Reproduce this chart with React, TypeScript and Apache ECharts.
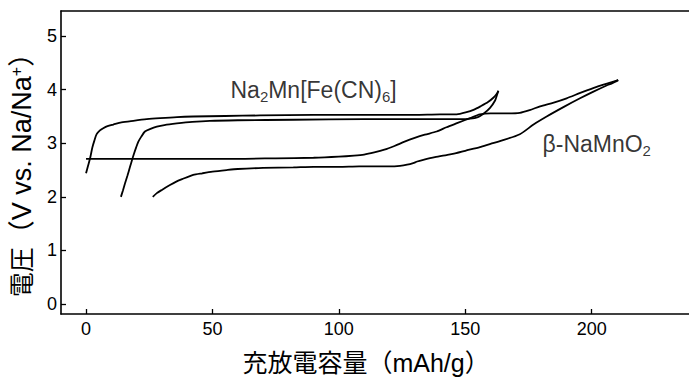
import React, { useEffect, useRef } from "react";
import * as echarts from "echarts";

const xTicks = [0, 50, 100, 150, 200];
const yTicks = [0, 1, 2, 3, 4, 5];

// Na2Mn[Fe(CN)6] charge (left to right)
const pbaCharge: [number, number][] = [
  [0, 2.44], [0.8, 2.58], [1.6, 2.72], [2.5, 2.92], [3.3, 3.05], [4.2, 3.17], [5.5, 3.24],
  [6.8, 3.28], [8.5, 3.32], [10.8, 3.35], [14, 3.39], [18.7, 3.42], [24, 3.45], [29.3, 3.47],
  [36, 3.49], [42.4, 3.5], [55, 3.51], [68.8, 3.52], [90, 3.53], [110, 3.53], [130, 3.53],
  [140, 3.54], [146.6, 3.54], [150.5, 3.58], [153.5, 3.63], [156, 3.69], [159, 3.77],
  [161.1, 3.85], [162.4, 3.92], [163.1, 3.98],
];
// Na2Mn[Fe(CN)6] discharge (right to left)
const pbaDischarge: [number, number][] = [
  [163.1, 3.98], [162.4, 3.88], [161.8, 3.8], [159.8, 3.66], [157.2, 3.55], [155, 3.49],
  [152, 3.46], [148, 3.45], [130, 3.45], [110, 3.45], [82, 3.44], [60, 3.43], [49, 3.42],
  [42, 3.4], [35.9, 3.37], [31, 3.34], [28, 3.31], [25.5, 3.27], [23.3, 3.22], [21.8, 3.12],
  [20.7, 3.03], [19.8, 2.92], [19, 2.81], [18.2, 2.69], [17.4, 2.56], [16.4, 2.4],
  [15.4, 2.25], [14.6, 2.12], [13.8, 2.0],
];
// beta-NaMnO2 charge (left to right)
const nmoCharge: [number, number][] = [
  [0, 2.71], [20, 2.71], [40, 2.71], [60, 2.71], [75, 2.72], [90, 2.73], [100, 2.75],
  [106, 2.77], [110, 2.79], [114, 2.83], [118, 2.88], [122, 2.95], [126, 3.03], [130, 3.1],
  [134, 3.16], [138.7, 3.22], [142.6, 3.3], [147, 3.38], [151.9, 3.47], [155.8, 3.54],
  [160, 3.56], [166, 3.56], [171.6, 3.57], [175.5, 3.62], [179.6, 3.69], [185, 3.76],
  [190.1, 3.84], [195.5, 3.94], [200.6, 4.03], [205, 4.1], [208.6, 4.15], [210.5, 4.18],
];
// beta-NaMnO2 discharge (right to left)
const nmoDischarge: [number, number][] = [
  [210.5, 4.18], [208, 4.12], [205.9, 4.08], [200.5, 3.96], [195.4, 3.84], [189, 3.68],
  [182.2, 3.5], [177, 3.35], [171.6, 3.17], [163.7, 3.04], [160, 2.99], [155.8, 2.93],
  [150, 2.86], [146, 2.81], [142.6, 2.78], [138, 2.74], [133.4, 2.69], [131, 2.66],
  [129.4, 2.63], [127, 2.6], [124.2, 2.58], [120, 2.57], [116.3, 2.57], [108, 2.57],
  [100, 2.56], [90, 2.56], [82, 2.55], [70, 2.54], [60, 2.52], [55.6, 2.5], [50, 2.47],
  [46, 2.44], [42.4, 2.41], [38, 2.33], [35.5, 2.28], [33.2, 2.22], [30, 2.13], [28, 2.07],
  [26.4, 2.0],
];

const pbaLabelPos: [number, number] = [90, 4.0];
const nmoLabelPos: [number, number] = [202, 2.99];

const latin = "'Liberation Sans', Arial, 'Noto Sans CJK JP', sans-serif";

export default function App() {
  const ref = useRef<HTMLDivElement>(null);
  useEffect(() => {
    document.body.style.margin = "0";
    const chart = echarts.init(ref.current!, null, { renderer: "svg" });
    const lineSeries = (data: [number, number][]) => ({
      type: "line",
      data,
      symbol: "none",
      smooth: 0.25,
      silent: true,
      lineStyle: { color: "#000", width: 1.8 },
    });
    const richLabel = {
      a: { fontSize: 23, fontFamily: latin, color: "#000", lineHeight: 29 },
      s: { fontSize: 15, fontFamily: latin, color: "#000", lineHeight: 15, verticalAlign: "bottom" },
    };
    chart.setOption({
      animation: false,
      backgroundColor: "#fff",
      grid: { left: 61, top: 11, right: 0, bottom: 64, containLabel: false, outerBoundsMode: "none" },
      xAxis: [
        {
          type: "value",
          min: -9.9,
          max: 238.5,
          name: "充放電容量（mAh/g）",
          nameLocation: "middle",
          nameGap: 36,
          nameTextStyle: { fontSize: 25, fontFamily: latin, color: "#000", padding: [0, 18, 0, 0] },
          axisLine: { show: true, onZero: false, lineStyle: { color: "#000", width: 1.6 } },
          axisTick: { show: true, inside: true, length: 5, customValues: xTicks, lineStyle: { color: "#000", width: 1.3 } },
          axisLabel: { customValues: xTicks, fontSize: 18, fontFamily: latin, color: "#000", margin: 6 },
          splitLine: { show: false },
        },
        {
          type: "value",
          position: "top",
          min: -9.9,
          max: 238.5,
          axisLine: { show: true, onZero: false, lineStyle: { color: "#000", width: 1.6 } },
          axisTick: { show: false },
          axisLabel: { show: false },
          splitLine: { show: false },
        },
      ],
      yAxis: {
        type: "value",
        min: -0.187,
        max: 5.47,
        name: "{c|電圧}（V vs. Na/Na{sup|+}）",
        nameLocation: "middle",
        nameGap: 26,
        nameTextStyle: {
          fontSize: 27,
          fontFamily: latin,
          color: "#000",
          padding: [0, 12, 0, 0],
          rich: {
            c: { fontSize: 25, fontFamily: latin, color: "#000" },
            sup: { fontSize: 16, fontFamily: latin, color: "#000", verticalAlign: "top", lineHeight: 16 },
          },
        },
        axisLine: { show: true, onZero: false, lineStyle: { color: "#000", width: 1.6 } },
        axisTick: { show: true, inside: true, length: 5, customValues: yTicks, lineStyle: { color: "#000", width: 1.3 } },
        axisLabel: { customValues: yTicks, fontSize: 18, fontFamily: latin, color: "#000", margin: 4 },
        splitLine: { show: false },
      },
      series: [
        lineSeries(pbaCharge),
        lineSeries(pbaDischarge),
        lineSeries(nmoCharge),
        lineSeries(nmoDischarge),
        {
          type: "scatter",
          silent: true,
          symbolSize: 0,
          data: [pbaLabelPos],
          label: {
            show: true,
            position: "inside",
            formatter: "{a|Na}{s|2}{a|Mn[Fe(CN)}{s|6}{a|]}",
            rich: richLabel,
          },
        },
        {
          type: "scatter",
          silent: true,
          symbolSize: 0,
          data: [nmoLabelPos],
          label: {
            show: true,
            position: "inside",
            formatter: "{a|β-NaMnO}{s|2}",
            rich: richLabel,
          },
        },
      ],
    });
    return () => chart.dispose();
  }, []);
  return (
    <div
      ref={ref}
      style={{ position: "absolute", left: 0, top: 0, width: 689, height: 378, background: "#fff" }}
    />
  );
}
